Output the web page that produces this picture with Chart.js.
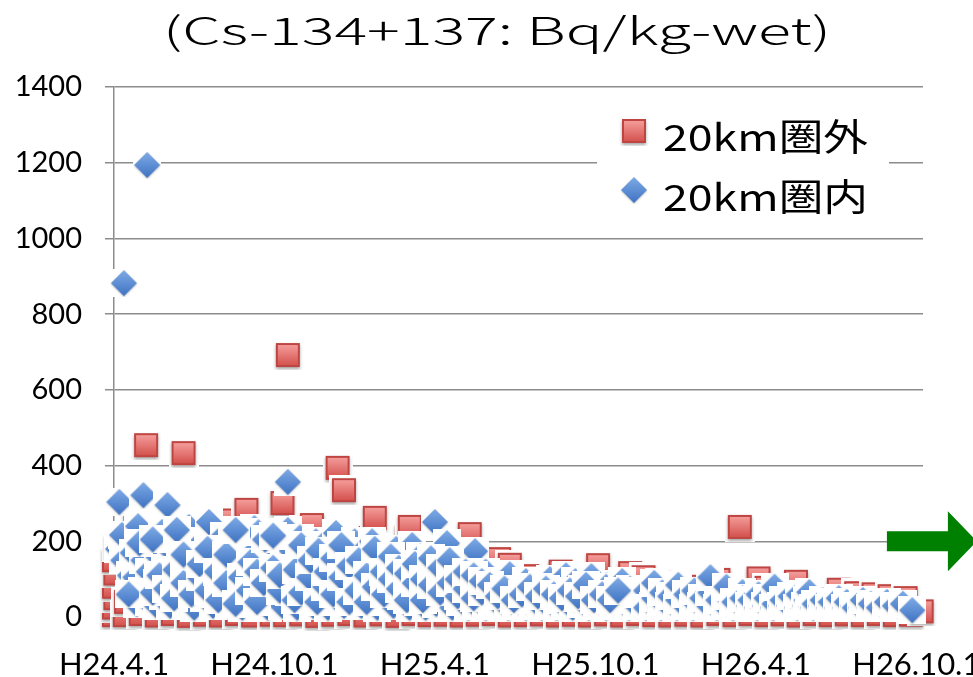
<!DOCTYPE html>
<html>
<head>
<meta charset="utf-8">
<script src="https://cdn.jsdelivr.net/npm/chart.js@4.4.1/dist/chart.umd.min.js"></script>
<style>
html, body { margin: 0; padding: 0; background: #fff; overflow: hidden; }
#wrap { position: relative; width: 973px; height: 677px; }
</style>
</head>
<body>
<div id="wrap"><canvas id="myChart"></canvas></div>
<script>
// x = months counted from H24.4.1, y = Bq/kg-wet
const titleText = '(Cs-134+137: Bq/kg-wet)';
const tickMonths = [0, 6, 12, 18, 24, 30];
const tickLabels = ['H24.4.1', 'H24.10.1', 'H25.4.1', 'H25.10.1', 'H26.4.1', 'H26.10.1'];
const yTicks = [0, 200, 400, 600, 800, 1000, 1200, 1400];
const seriesNames = ['20km圏外', '20km圏内'];

// 20km圏外 (red squares)
const outsidePoints = [
  [0.0,5],[0.0,25],[0.05,50],[0.0,80],[0.05,115],[0.0,150],[0.1,185],
  [0.4,5],[0.45,40],[0.5,200],[0.8,243],[1.0,8],[1.2,454],[1.25,60],[1.3,215],[1.5,108],[1.6,4],
  [2.2,8],[2.3,200],[2.6,433],[2.8,3],[3.0,170],[3.4,6],[3.9,120],[4.0,4],[4.4,255],[4.6,8],
  [4.95,283],[4.9,222],[5.2,4],[5.8,143],[5.9,6],
  [6.3,301],[6.4,5],[6.5,692],[7.0,7],[7.1,230],[7.4,243],[7.6,3],[7.8,110],[8.2,6],
  [8.36,394],[8.6,335],[8.7,190],[8.8,8],[9.4,4],[9.6,209],[9.75,262],[10.0,7],[10.2,145],
  [10.6,3],[10.95,211],[11.06,238],[11.2,8],[11.5,90],[11.8,5],
  [12.4,6],[12.6,60],[13.0,4],[13.3,219],[13.6,6],[13.9,60],[14.2,8],[14.4,153],[14.8,138],
  [14.8,4],[15.4,5],[15.45,108],[15.9,75],[16.0,7],[16.6,4],[16.7,120],[17.2,6],[17.5,50],
  [17.8,4],[18.1,137],[18.4,7],[18.75,85],[19.0,4],[19.3,116],[19.6,8],[19.8,105],[20.2,5],
  [20.4,90],[20.8,4],[21.0,55],[21.4,6],[22.0,4],[22.0,80],[22.6,98],[22.6,8],[23.2,5],
  [23.4,238],[23.8,8],[24.1,102],[24.4,77],[24.4,5],[25.0,7],[25.5,93],[25.6,4],[26.2,8],
  [26.5,40],[26.8,5],[27.1,72],[27.4,7],[27.75,63],[28.0,5],[28.4,60],[28.6,8],[29.0,55],
  [29.2,5],[29.6,50],[29.8,6],[30.2,15]
];

// 20km圏内 (blue diamonds)
const insidePoints = [
  [0.15,180],[0.2,304],[0.3,217],[0.35,150],[0.37,882],
  [0.6,110],[0.7,170],[0.8,105],[0.85,35],[0.9,240],
  [1.1,322],[1.05,70],[1.1,150],[1.24,1194],[1.3,40],[1.3,120],[1.35,195],
  [1.6,30],[1.6,90],[1.65,160],[1.8,225],[1.85,55],[1.9,130],
  [2.0,296],[2.1,30],[2.1,100],[2.15,175],
  [2.4,70],[2.45,145],[2.5,205],
  [2.8,238],[2.7,35],[2.75,115],[2.85,185],
  [3.0,25],[3.05,80],[3.1,160],
  [3.3,200],[3.35,50],[3.4,125],[3.55,251],
  [3.7,30],[3.7,95],[3.75,170],
  [4.0,60],[4.0,140],[4.1,215],
  [4.3,30],[4.35,110],[4.4,211],[4.45,185],
  [4.6,75],[4.65,155],[4.8,25],[4.85,50],[4.9,130],[4.95,200],
  [5.2,95],[5.2,170],[5.25,235],
  [5.4,224],[5.45,30],[5.5,60],[5.5,140],
  [5.75,25],[5.8,115],[5.85,185],
  [6.0,45],[6.05,90],[6.1,160],
  [6.3,30],[6.3,130],[6.35,195],
  [6.5,357],[6.5,230],[6.55,65],[6.6,110],[6.65,175],
  [6.85,25],[6.9,150],[6.95,210],
  [7.1,45],[7.15,90],[7.2,170],
  [7.45,30],[7.5,125],[7.55,200],
  [7.8,190],[7.75,60],[7.8,145],
  [8.0,25],[8.05,100],[8.1,175],
  [8.3,222],[8.35,40],[8.4,130],
  [8.6,30],[8.65,80],[8.7,160],
  [8.95,50],[9.0,115],[9.0,200],
  [9.25,30],[9.3,90],[9.3,175],
  [9.55,60],[9.6,148],[9.65,200],
  [9.85,25],[9.9,105],[10.0,160],
  [10.15,40],[10.2,85],[10.25,135],
  [10.45,30],[10.5,120],[10.55,180],
  [10.75,55],[10.8,100],[10.9,148],
  [11.05,25],[11.1,75],[11.15,190],
  [11.35,40],[11.4,110],[11.45,160],
  [11.65,25],[11.7,65],[11.75,130],
  [12.0,251],[12.0,153],[12.05,35],[12.1,95],
  [12.35,50],[12.4,120],[12.45,195],
  [12.65,25],[12.7,70],[12.75,110],
  [12.95,40],[13.0,85],[13.05,140],
  [13.25,25],[13.3,60],[13.35,100],
  [13.5,174],[13.55,30],[13.6,80],
  [13.85,50],[13.9,120],[13.9,25],
  [14.15,30],[14.2,70],[14.2,45],
  [14.45,30],[14.5,90],
  [14.8,113],[14.75,25],[14.8,55],
  [15.05,30],[15.1,75],
  [15.35,45],[15.4,95],[15.4,25],
  [15.65,30],[15.7,65],
  [15.95,40],[16.0,85],[16.0,25],
  [16.25,30],[16.3,60],[16.3,100],
  [16.55,25],[16.6,45],[16.6,80],
  [16.85,30],[16.9,70],[16.9,110],
  [17.15,25],[17.2,50],[17.25,95],
  [17.45,35],[17.5,75],
  [17.75,25],[17.8,55],[17.85,108],
  [18.05,30],[18.1,65],
  [18.35,40],[18.4,80],[18.4,25],
  [18.65,30],[18.7,60],
  [18.95,30],[19.0,50],[19.0,95],
  [19.25,25],[19.3,45],[19.3,75],
  [19.55,30],[19.6,60],
  [19.85,35],[19.9,70],[19.9,25],
  [20.15,30],[20.2,50],[20.2,90],
  [20.45,25],[20.5,40],[20.5,65],
  [20.75,30],[20.8,55],
  [21.05,25],[21.1,45],[21.1,85],
  [21.35,30],[21.4,60],
  [21.65,25],[21.7,40],[21.7,70],
  [21.95,30],[22.0,50],
  [22.25,30],[22.3,65],[22.3,105],
  [22.55,25],[22.6,45],
  [22.85,30],[22.9,55],[22.9,80],
  [23.15,25],[23.2,40],
  [23.45,30],[23.5,66],[23.5,50],
  [23.75,30],[23.8,45],
  [24.05,25],[24.1,40],[24.1,60],
  [24.35,30],[24.4,50],
  [24.65,25],[24.7,35],[24.7,80],
  [24.95,30],[25.0,45],
  [25.25,30],[25.3,55],
  [25.55,25],[25.6,40],[25.6,60],
  [25.85,30],[25.9,45],
  [26.0,66],[26.15,25],[26.2,35],
  [26.45,30],[26.5,45],
  [26.75,25],[26.8,40],
  [27.05,25],[27.1,35],[27.1,50],
  [27.35,25],[27.4,40],
  [27.65,30],[27.7,25],
  [27.95,25],[28.0,45],
  [28.25,25],[28.3,35],
  [28.55,30],[28.6,25],
  [28.85,25],[28.9,40],
  [29.15,25],[29.2,30],
  [29.45,25],[29.5,35],
  [29.85,18],
  // later samples filling the dense band
  [0.55,60],[0.95,195],[1.45,65],[1.45,205],[1.7,110],[1.95,75],[2.25,50],[2.3,125],[2.35,230],
  [2.6,90],[2.6,165],[2.9,60],[3.2,105],[3.2,140],[3.5,70],[3.5,180],[3.85,120],[3.9,45],
  [4.2,90],[4.2,165],[4.55,35],[4.55,230],[4.75,105],[5.05,70],[5.1,145],[5.35,40],[5.35,120],
  [5.6,90],[5.65,205],[5.95,130],[5.95,215],[6.2,70],[6.2,110],[6.75,45],[6.8,125],[7.0,65],
  [7.0,190],[7.3,105],[7.35,150],[7.6,40],[7.65,175],[7.9,80],[7.95,120],[8.2,60],[8.2,155],
  [8.5,105],[8.5,190],[8.8,135],[8.8,40],[9.1,70],[9.15,150],[9.45,110],[9.45,40],[9.75,80],
  [9.75,180],[10.05,120],[10.1,60],[10.35,100],[10.35,160],[10.65,75],[10.65,130],[10.95,45],
  [10.95,115],[11.25,90],[11.25,140],[11.55,45],[11.55,100],[11.85,85],[11.85,155],[12.2,65],
  [12.2,130],[12.55,90],[12.55,150],[12.85,55],[12.85,100],[13.15,75],[13.15,120],[13.45,50],
  [13.45,110],[13.75,65],[13.75,95],[14.05,85],[14.35,55],[14.6,75],[14.95,45],[15.25,60],
  [15.55,80],[15.85,55],[16.15,75],[16.45,60],[16.75,50],[17.05,70],[17.35,55],[17.65,85],
  [17.95,45],[18.25,60],[18.55,45],[18.85,70]
];

// where the green arrow starts (month, value)
const arrowFrom = [28.9, 200];

function squareMarker(halo) {
  const c = document.createElement('canvas');
  c.width = 30; c.height = 30;
  const g = c.getContext('2d');
  if (halo) { g.fillStyle = '#fff'; g.fillRect(0, 0, 30, 30); }
  g.shadowColor = 'rgba(0,0,0,0.35)';
  g.shadowBlur = 3;
  g.shadowOffsetY = 2;
  const gr = g.createLinearGradient(0, 3, 0, 27);
  gr.addColorStop(0, '#f7a3a1');
  gr.addColorStop(1, '#d24c48');
  g.fillStyle = gr;
  g.fillRect(3, 3, 24, 24);
  g.shadowColor = 'transparent';
  g.strokeStyle = '#be4542';
  g.lineWidth = 2;
  g.strokeRect(4, 4, 22, 22);
  return c;
}

function diamondMarker(halo) {
  const c = document.createElement('canvas');
  c.width = 28; c.height = 28;
  const g = c.getContext('2d');
  if (halo) { g.fillStyle = '#fff'; g.fillRect(0, 0, 28, 28); }
  g.shadowColor = 'rgba(0,0,0,0.25)';
  g.shadowBlur = 2;
  g.shadowOffsetY = 1;
  const gr = g.createLinearGradient(0, 1, 0, 27);
  gr.addColorStop(0, '#7eaae6');
  gr.addColorStop(1, '#3f73c2');
  g.fillStyle = gr;
  g.beginPath();
  g.moveTo(14, 1); g.lineTo(27, 14); g.lineTo(14, 27); g.lineTo(1, 14);
  g.closePath();
  g.fill();
  return c;
}

const squareImg = squareMarker(true);
const diamondImg = diamondMarker(true);
const squareLegend = squareMarker(false);
const diamondLegend = diamondMarker(false);

// stretched text, like the original's widened title and legend
function wideText(ctx, text, x, y, width, align) {
  const w = ctx.measureText(text).width;
  ctx.save();
  ctx.translate(x, y);
  ctx.scale(width / w, 1);
  ctx.textAlign = align;
  ctx.fillText(text, 0, 0);
  ctx.restore();
}

const extras = {
  id: 'extras',
  afterDraw(chart) {
    const { ctx, chartArea, scales } = chart;
    ctx.save();

    // title
    ctx.fillStyle = '#000';
    ctx.font = '300 38px "Noto Sans CJK JP"';
    ctx.textBaseline = 'alphabetic';
    wideText(ctx, titleText, 497, 45, 668, 'center');

    // legend
    const lx = chartArea.right - 326, ly = chartArea.top + 19;
    ctx.fillStyle = '#fff';
    ctx.fillRect(lx, ly, 292, 122);
    ctx.drawImage(squareLegend, lx + 22, ly + 10);
    ctx.drawImage(diamondLegend, lx + 23, ly + 70);
    ctx.fillStyle = '#000';
    ctx.textBaseline = 'middle';
    ctx.font = '37px "Noto Sans CJK JP"';
    wideText(ctx, seriesNames[0], lx + 66, ly + 31, 205, 'left');
    wideText(ctx, seriesNames[1], lx + 66, ly + 91, 205, 'left');

    // green arrow
    const ax = scales.x.getPixelForValue(arrowFrom[0]);
    const ay = scales.y.getPixelForValue(arrowFrom[1]);
    ctx.fillStyle = '#008000';
    ctx.beginPath();
    ctx.moveTo(ax, ay - 10);
    ctx.lineTo(ax + 61, ay - 10);
    ctx.lineTo(ax + 61, ay - 30);
    ctx.lineTo(ax + 90, ay);
    ctx.lineTo(ax + 61, ay + 30);
    ctx.lineTo(ax + 61, ay + 10);
    ctx.lineTo(ax, ay + 10);
    ctx.closePath();
    ctx.fill();

    ctx.restore();
  }
};

const ctx = document.getElementById('myChart');
const chart = new Chart(ctx, {
  type: 'scatter',
  data: {
    datasets: [{
      label: seriesNames[0],
      data: outsidePoints.map(p => ({ x: p[0], y: p[1] })),
      pointStyle: squareImg,
      pointRadius: 12,
      order: 2,
      clip: false
    }, {
      label: seriesNames[1],
      data: insidePoints.map(p => ({ x: p[0], y: p[1] })),
      pointStyle: diamondImg,
      pointRadius: 13,
      order: 1,
      clip: false
    }]
  },
  options: {
    responsive: true,
    maintainAspectRatio: false,
    animation: false,
    events: [],
    layout: { padding: { top: 87, right: 50, left: 0, bottom: 0 } },
    plugins: {
      legend: { display: false },
      tooltip: { enabled: false },
      title: { display: false }
    },
    scales: {
      x: {
        type: 'linear',
        min: 0,
        max: 30.25,
        afterBuildTicks: s => { s.ticks = tickMonths.map(v => ({ value: v })); },
        afterFit: s => { s.height = 60; s.paddingLeft = 0; s.paddingRight = 0; },
        grid: { display: false },
        border: { display: false },
        ticks: {
          autoSkip: false,
          maxRotation: 0,
          padding: 21,
          color: '#000',
          font: { family: 'Lato', size: 31 },
          callback: (v, i) => tickLabels[i]
        }
      },
      y: {
        min: 0,
        max: 1400,
        afterBuildTicks: s => { s.ticks = yTicks.map(v => ({ value: v })); },
        afterFit: s => { s.width = 114; },
        grid: { color: '#8c8c8c', lineWidth: 1.5, tickLength: 9 },
        border: { display: true, color: '#8c8c8c', width: 1.5 },
        ticks: {
          padding: 23,
          color: '#000',
          font: { family: 'Lato', size: 29 },
          callback: v => String(v)
        }
      }
    }
  },
  plugins: [extras]
});
</script>
</body>
</html>
